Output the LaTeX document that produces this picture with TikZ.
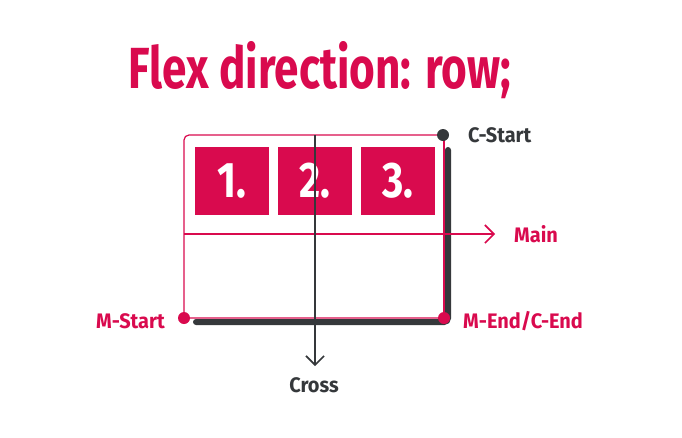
\documentclass[tikz,border=0pt]{standalone}
\usepackage{fontspec}
\setmainfont{Fira Sans}
\newfontfamily\condfont{Fira Sans}[FakeStretch=0.82]
\newfontfamily\titlefont{Fira Sans}[FakeStretch=0.76]
\newfontfamily\labfont{Fira Sans}[FakeStretch=0.95]
\usetikzlibrary{arrows.meta}
\definecolor{pinkc}{HTML}{D90A4E}
\definecolor{darkc}{HTML}{35383B}
\tikzset{
  itembox/.style={fill=pinkc, draw=none, minimum width=74pt, minimum height=68pt, inner sep=0pt,
    text=white, font=\condfont\bfseries\fontsize{50}{50}\selectfont},
  pdot/.style={circle, fill=pinkc, minimum size=12pt, inner sep=0pt},
  ddot/.style={circle, fill=darkc, minimum size=12pt, inner sep=0pt},
  lab/.style={font=\labfont\bfseries\fontsize{21}{21}\selectfont, inner sep=0pt},
  thinpink/.style={draw=pinkc, line width=1.2pt},
  thickdark/.style={draw=darkc, line width=6pt, line cap=round, rounded corners=4pt},
  axisarrow/.style={line width=1.6pt, -{Straight Barb[length=9pt,width=18pt,line width=1.6pt]}},
}
\begin{document}
\begin{tikzpicture}[x=1pt,y=-1pt]
\useasboundingbox (0,0) rectangle (682,437);
% title
\node[text=pinkc, inner sep=0pt, font=\titlefont\bfseries\fontsize{58}{58}\selectfont] (title) at (320,70) {Flex direction: row;};
% dark thick border
\coordinate (dtop) at (448,150);
\coordinate (dleft) at (196,322);
\draw[thickdark] (dtop) -- (448,322) -- (dleft);
% pink thin container
\draw[thinpink, rounded corners=5pt] (444,318) -- (184,318) -- (184,135) -- (444,135);
\draw[thinpink] (444,135) -- (444,318);
% boxes
\node[itembox] (b1) at (232,181) {1.};
\node[itembox] (b2) at (315,181) {2.};
\node[itembox] (b3) at (398,181) {3.};
% main axis
\coordinate (mstart) at (184,234);
\coordinate (mend) at (495,234);
\draw[pinkc, axisarrow] (mstart) -- (mend);
% cross axis
\coordinate (cstart) at (315,135);
\coordinate (cend) at (315,366);
\draw[darkc, axisarrow] (cstart) -- (cend);
% dots
\node[ddot] (cs) at (443,135) {};
\node[pdot] (ms) at (184,318) {};
\node[pdot] (me) at (444,318) {};
% labels
\node[lab, text=darkc, anchor=west] (lcs) at (468,135) {C-Start};
\node[lab, text=pinkc, anchor=west] (lmain) at (514,234) {Main};
\node[lab, text=pinkc, anchor=east] (lms) at (165,321) {M-Start};
\node[lab, text=pinkc, anchor=west] (lme) at (463,321) {M-End/C-End};
\node[lab, text=darkc] (lcross) at (314,385) {Cross};
\end{tikzpicture}
\end{document}
